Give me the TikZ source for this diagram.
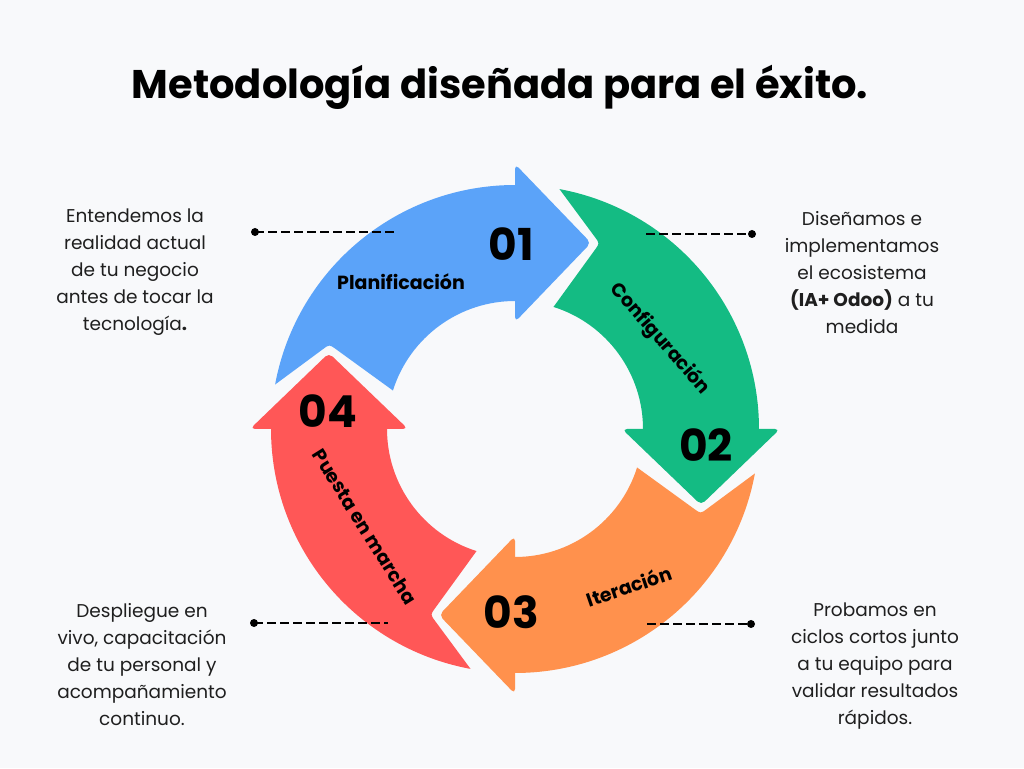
\documentclass[tikz,border=0pt]{standalone}
\usepackage{fontspec}
\setmainfont{Poppins}
\usetikzlibrary{calc}
\definecolor{bg}{HTML}{F8F9FB}
\definecolor{cblue}{HTML}{5BA3F9}
\definecolor{cgreen}{HTML}{14BB83}
\definecolor{corange}{HTML}{FF914D}
\definecolor{cred}{HTML}{FF5757}
\newcommand\ringarrow[2]{%
  \pgfmathsetmacro\ps{#2}%
  \pgfmathsetmacro\ph{#2-90}%
  \coordinate (tlo) at (\ps-10.5:244pt);
  \coordinate (tli) at (\ps-17.5:128pt);
  \coordinate (tla) at (\ps-24.5:204pt);
  \fill[#1] (tlo) arc[start angle=\ps-10.5, end angle=\ph-0.5, radius=244pt]
     -- (\ph-0.5:128pt) arc[start angle=\ph-0.5, end angle=\ps-17.5, radius=128pt]
     -- ($(tla)!8pt!(tli)$) .. controls (tla) .. ($(tla)!8pt!(tlo)$) -- cycle;
  \fill[#1, rounded corners=5pt] (\ph:265pt) -- (\ph-22.2:201pt) -- (\ph:107pt) -- cycle;
}
\tikzset{
  body/.style={align=center, font=\fontsize{18.5}{27}\selectfont, text=black!88},
  num/.style={font=\fontsize{44}{48}\selectfont\bfseries, text=black},
  lab/.style={font=\fontsize{19}{22}\selectfont\bfseries, text=black},
  lead/.style={line width=2.3pt, dash pattern=on 9pt off 4pt, black},
  dot/.style={circle, fill=black, inner sep=0pt, minimum size=8pt}
}
\begin{document}
\begin{tikzpicture}[x=1pt,y=1pt]
\fill[bg] (0,0) rectangle (1024,768);
\useasboundingbox (0,0) rectangle (1024,768);

\node[font=\fontsize{40}{46}\selectfont\bfseries] (title) at (500,681) {Metodología diseñada para el éxito.};

\begin{scope}[shift={(515,339)}]
  \ringarrow{cblue}{180}
  \ringarrow{cgreen}{90}
  \ringarrow{corange}{0}
  \ringarrow{cred}{-90}
\end{scope}

\node[num] (n1) at (511,524) {01};
\node[num] (n2) at (706,323) {02};
\node[num] (n3) at (511,156) {03};
\node[num] (n4) at (328,357) {04};

\node[lab] (l1) at (401,486) {Planificación};
\node[lab, rotate=-49] (l2) at (660,429) {Configuración};
\node[lab, rotate=19] (l3) at (629,182) {Iteración};
\node[lab, rotate=-58] (l4) at (365,241) {Puesta en marcha};

\node[body] (t1) at (135,496) {Entendemos la\\realidad actual\\de tu negocio\\antes de tocar la\\tecnología\textbf{.}};
\node[body] (t2) at (862,495) {Diseñamos e\\implementamos\\el ecosistema\\\textbf{(IA+ Odoo)} a tu\\medida};
\node[body] (t3) at (142,103) {Despliegue en\\vivo, capacitación\\de tu personal y\\acompañamiento\\continuo.};
\node[body] (t4) at (875,102) {Probamos en\\ciclos cortos junto\\a tu equipo para\\validar resultados\\rápidos.};

\node[dot] (d1) at (255,536) {};
\coordinate (e1) at (397,536);
\node[dot] (d2) at (752,534) {};
\coordinate (e2) at (646,534);
\node[dot] (d3) at (254,145) {};
\coordinate (e3) at (388,145);
\node[dot] (d4) at (751,144) {};
\coordinate (e4) at (647,144);
\draw[lead] (d1.center) -- (e1);
\draw[lead] (e2) -- (d2.center);
\draw[lead] (d3.center) -- (e3);
\draw[lead] (e4) -- (d4.center);
\end{tikzpicture}
\end{document}
